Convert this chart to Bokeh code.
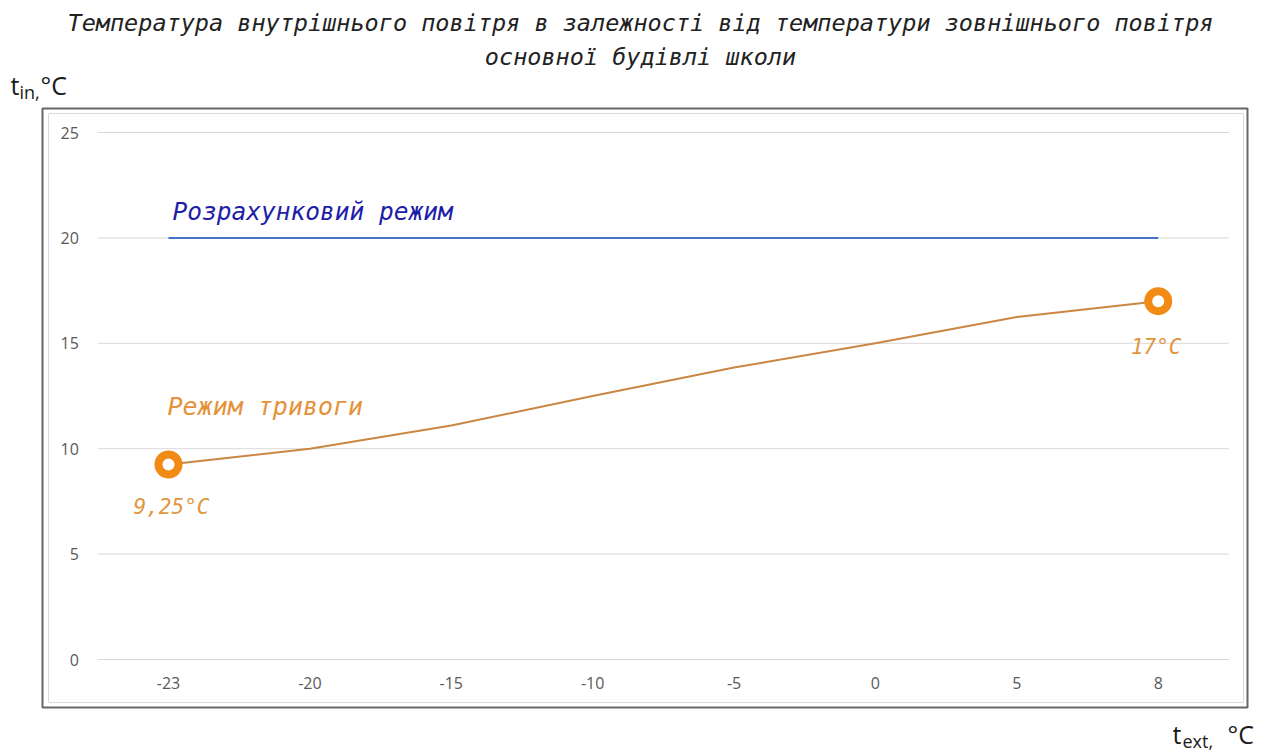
from bokeh.plotting import figure
from bokeh.models import Range1d, Label, BoxAnnotation, ColumnDataSource
from bokeh.core.properties import value
from bokeh.embed import file_html
from bokeh.resources import INLINE

# ---------------- data ----------------
categories = ["-23", "-20", "-15", "-10", "-5", "0", "5", "8"]
design_mode = [20, 20, 20, 20, 20, 20, 20, 20]                   # Розрахунковий режим
alarm_mode = [9.25, 10.0, 11.1, 12.5, 13.85, 15.0, 16.25, 17.0]  # Режим тривоги
y_ticks = [0, 5, 10, 15, 20, 25]

title_lines = ["Температура внутрішнього повітря в залежності від температури зовнішнього повітря",
               "основної будівлі школи"]
design_label = "Розрахунковий режим"
alarm_label = "Режим тривоги"

# ---------------- layout (page px) ----------------
W, H = 1270, 753
PL, PR, PT, PB = 97.3, 1228.4, 132, 659        # plot area in page pixels
n_cat = len(categories)
cat_w = (PR - PL) / n_cat                       # px per category
px_per_unit = (PB - PT) / (y_ticks[-1] - y_ticks[0])

# category index used as the x coordinate of each category
x_idx = list(range(n_cat))
x_lo, x_hi = -0.5, n_cat - 0.5                  # edges of the category axis

p = figure(width=W, height=H, output_backend="svg", toolbar_location=None,
           title=None, x_axis_location=None, y_axis_location=None,
           x_range=Range1d(x_lo - PL / cat_w, x_lo + (W - PL) / cat_w),
           y_range=Range1d(-(H - PB) / px_per_unit, PB / px_per_unit),
           min_border_left=0, min_border_right=0, min_border_top=0, min_border_bottom=0)
p.outline_line_color = None
p.background_fill_color = "white"
p.border_fill_color = "white"
p.grid.visible = False

def sx(px):   # screen units (frame == canvas, y measured up from bottom)
    return px

def sy(py):
    return H - py

TITLE_FONT = "DejaVu Sans Mono"
SANS = "Open Sans"

# outer chart frame
p.add_layout(BoxAnnotation(left=sx(42), right=sx(1247), top=sy(108), bottom=sy(707),
                           left_units="screen", right_units="screen",
                           top_units="screen", bottom_units="screen",
                           fill_color=None, fill_alpha=0,
                           line_color="#666666", line_alpha=1, line_width=2))
p.add_layout(BoxAnnotation(left=sx(48), right=sx(1243), top=sy(113), bottom=sy(702),
                           left_units="screen", right_units="screen",
                           top_units="screen", bottom_units="screen",
                           fill_color=None, fill_alpha=0,
                           line_color="#DADADA", line_alpha=1, line_width=1))

# horizontal gridlines at the y ticks, across the category axis
p.segment(x0=[x_lo] * len(y_ticks), x1=[x_hi] * len(y_ticks), y0=y_ticks, y1=y_ticks,
          line_color="#D9D9D9", line_width=1)

# tick labels
p.text(x=[x_lo] * len(y_ticks), y=y_ticks, text=[str(t) for t in y_ticks],
       x_offset=-19, text_font=value(SANS), text_font_size="16px", text_color="#595959",
       text_align="right", text_baseline="middle")
p.text(x=x_idx, y=[y_ticks[0]] * n_cat, text=categories,
       y_offset=23, text_font=value(SANS), text_font_size="16px", text_color="#595959",
       text_align="center", text_baseline="middle")

# series
p.line(x_idx, design_mode, line_color="#4472C4", line_width=2)
p.line(x_idx, alarm_mode, line_color="#C98743", line_width=2)

end_x = [x_idx[0], x_idx[-1]]
end_y = [alarm_mode[0], alarm_mode[-1]]
p.scatter(end_x, end_y, size=20, line_width=8, line_color="#F28A16",
          fill_color="white")

def fmt(v):
    return ("%g" % v).replace(".", ",") + "°C"

lab_src = ColumnDataSource(dict(x=end_x, y=end_y, t=[fmt(v) for v in end_y],
                                xo=[3, -2], yo=[42, 46]))
p.text(x="x", y="y", text="t", x_offset="xo", y_offset="yo", source=lab_src,
       text_font=value(TITLE_FONT), text_font_style="italic", text_font_size="21px",
       text_color="#E0963F", text_align="center", text_baseline="alphabetic")

# in-plot series labels
p.add_layout(Label(x=sx(172), y=sy(211), x_units="screen", y_units="screen",
                   text=design_label, text_font=TITLE_FONT, text_font_style="italic",
                   text_font_size="24.5px", text_color="#1E1EA8",
                   text_align="left", text_baseline="alphabetic"))
p.add_layout(Label(x=sx(167), y=sy(406), x_units="screen", y_units="screen",
                   text=alarm_label, text_font=TITLE_FONT, text_font_style="italic",
                   text_font_size="25px", text_color="#E5923A",
                   text_align="left", text_baseline="alphabetic"))

# title
for txt, base in zip(title_lines, [22, 56]):
    p.add_layout(Label(x=sx(640), y=sy(base), x_units="screen", y_units="screen",
                       text=txt, text_font=TITLE_FONT, text_font_style="italic",
                       text_font_size="23.5px", text_color="#222222",
                       text_align="center", text_baseline="alphabetic"))

# axis titles with subscripts
def add_txt(px, py, txt, size):
    p.add_layout(Label(x=sx(px), y=sy(py), x_units="screen", y_units="screen",
                       text=txt, text_font=SANS, text_font_size=size,
                       text_color="#1A1A1A", text_align="left",
                       text_baseline="alphabetic"))

add_txt(10, 84, "t", "25px")
add_txt(19, 91, "in,", "18px")
add_txt(40, 84, "°C", "25px")

add_txt(1172, 733, "t", "25px")
add_txt(1182, 740, "ext,", "18px")
add_txt(1227, 733, "°C", "25px")

open("out.html", "w").write(file_html(p, INLINE))
